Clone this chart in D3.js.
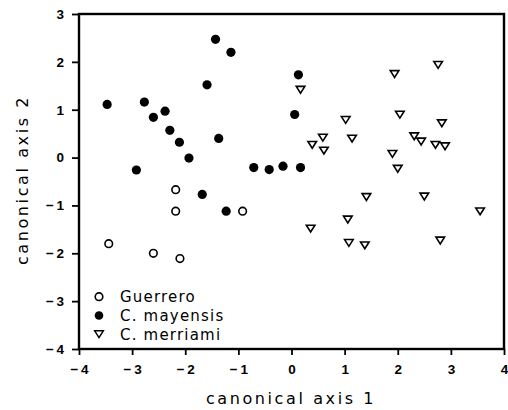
<!DOCTYPE html>
<html><head><meta charset="utf-8">
<script src="https://cdn.jsdelivr.net/npm/d3@7"></script>
<style>
html,body{margin:0;padding:0;background:#fff;}
svg{display:block;}
</style>
</head><body>
<svg id="c" width="508" height="410"></svg>
<script>
// Data (canonical axis 1, canonical axis 2)
const guerrero = [[-2.18,-0.67],[-2.18,-1.12],[-3.44,-1.80],[-2.60,-2.00],[-2.10,-2.11],[-0.92,-1.12]];
const mayensis = [[-3.47,1.11],[-2.77,1.16],[-2.60,0.84],[-2.38,0.97],[-2.29,0.57],[-2.11,0.32],[-1.93,-0.01],[-2.92,-0.26],[-1.59,1.52],[-1.43,2.47],[-1.37,0.40],[-1.14,2.20],[0.13,1.73],[0.06,0.90],[-0.71,-0.21],[-0.42,-0.25],[-0.16,-0.18],[0.17,-0.21],[-1.68,-0.77],[-1.23,-1.12]];
const merriami = [[0.17,1.42],[1.02,0.79],[0.59,0.42],[0.39,0.27],[0.61,0.15],[1.14,0.40],[2.76,1.94],[1.94,1.75],[2.04,0.90],[2.83,0.72],[2.31,0.45],[2.44,0.34],[2.71,0.27],[2.89,0.24],[1.90,0.08],[2.00,-0.23],[0.36,-1.48],[1.06,-1.29],[1.08,-1.78],[1.41,-0.82],[2.50,-0.81],[3.55,-1.12],[1.38,-1.83],[2.80,-1.73]];
const xTicks = [-4,-3,-2,-1,0,1,2,3,4];
const yTicks = [-4,-3,-2,-1,0,1,2,3];
const legendLabels = ["Guerrero","C. mayensis","C. merriami"];
const xTitle = "canonical axis 1";
const yTitle = "canonical axis 2";

const svg = d3.select("#c");
const x = d3.scaleLinear().domain([-4,4]).range([79,504]);
const y = d3.scaleLinear().domain([-4,3]).range([349,14]);
const fmt = d => d < 0 ? "\u2212\u2009" + Math.abs(d) : String(d);
const tickFont = "'Liberation Sans', Arial, sans-serif";
const textFont = "'DejaVu Sans', 'Noto Sans', sans-serif";

// frame
svg.append("rect").attr("x",x(-4)).attr("y",y(3)).attr("width",x(4)-x(-4)).attr("height",y(-4)-y(3))
  .attr("fill","none").attr("stroke","#000").attr("stroke-width",2.4);

// axes
const xa = svg.append("g").attr("transform",`translate(0,${y(-4)})`)
  .call(d3.axisBottom(x).tickValues(xTicks).tickFormat(fmt).tickSize(6).tickPadding(9));
const ya = svg.append("g").attr("transform",`translate(${x(-4)},0)`)
  .call(d3.axisLeft(y).tickValues(yTicks).tickFormat(fmt).tickSize(7).tickPadding(8));
[xa,ya].forEach(g=>{
  g.select(".domain").remove();
  g.selectAll(".tick line").attr("stroke","#000").attr("stroke-width",1.8);
  g.selectAll(".tick text").attr("fill","#000").style("font-family",tickFont)
    .style("font-size","13.5px").style("font-weight","bold");
});

// triangle (down-pointing), centered on bounding box
const tri = (cx,cy) => `M${cx-4.3},${cy-3.2}L${cx+4.3},${cy-3.2}L${cx},${cy+3.6}Z`;

const gp = svg.append("g");
gp.selectAll("circle.g").data(guerrero).join("circle").attr("class","g")
  .attr("cx",d=>x(d[0])).attr("cy",d=>y(d[1])).attr("r",3.8)
  .attr("fill","#fff").attr("stroke","#000").attr("stroke-width",1.6);
gp.selectAll("circle.m").data(mayensis).join("circle").attr("class","m")
  .attr("cx",d=>x(d[0])).attr("cy",d=>y(d[1])).attr("r",4.6).attr("fill","#000");
gp.selectAll("path.r").data(merriami).join("path").attr("class","r")
  .attr("d",d=>tri(x(d[0]),y(d[1])))
  .attr("fill","#fff").attr("stroke","#000").attr("stroke-width",1.6).attr("stroke-linejoin","miter");

// legend
const lg = svg.append("g");
const ly = [296.7, 315.5, 334.3];
const lx = 99;
lg.append("circle").attr("cx",lx).attr("cy",ly[0]).attr("r",3.8).attr("fill","#fff").attr("stroke","#000").attr("stroke-width",1.6);
lg.append("circle").attr("cx",lx).attr("cy",ly[1]).attr("r",4.3).attr("fill","#000");
lg.append("path").attr("d",tri(lx,ly[2]-0.3)).attr("fill","#fff").attr("stroke","#000").attr("stroke-width",1.5);
lg.selectAll("text").data(legendLabels).join("text")
  .attr("x",120).attr("y",(d,i)=>ly[i]+5.5)
  .style("font-family",textFont).style("font-size","15px").style("letter-spacing","1.2px")
  .attr("fill","#000").text(d=>d);

// axis titles
svg.append("text").attr("x",291).attr("y",404).attr("text-anchor","middle")
  .style("font-family",textFont).style("font-size","16px").style("letter-spacing","2.6px")
  .attr("fill","#000").text(xTitle);
svg.append("text").attr("transform","translate(28,180) rotate(-90)").attr("text-anchor","middle")
  .style("font-family",textFont).style("font-size","16px").style("letter-spacing","2.6px")
  .attr("fill","#000").text(yTitle);
</script>
</body></html>
